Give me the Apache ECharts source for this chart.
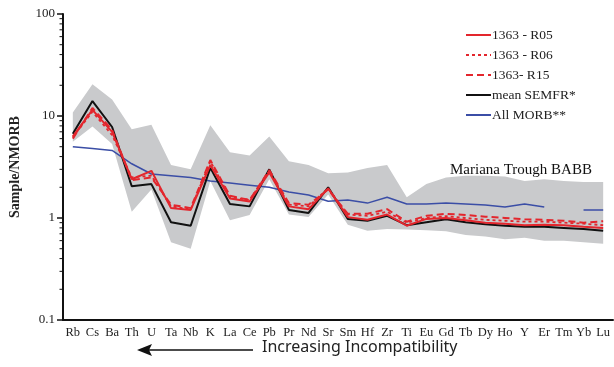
<!DOCTYPE html>
<html><head><meta charset="utf-8">
<script src="https://cdn.jsdelivr.net/npm/echarts@6/dist/echarts.min.js"></script>
<style>html,body{margin:0;padding:0;background:#fff}#c{width:614px;height:367px}</style>
</head><body><div id="c"></div>
<script>
var categories = ['Rb','Cs','Ba','Th','U','Ta','Nb','K','La','Ce','Pb','Pr','Nd','Sr','Sm','Hf','Zr','Ti','Eu','Gd','Tb','Dy','Ho','Y','Er','Tm','Yb','Lu'];
var r05   = [6.3, 11.5, 7.0, 2.4, 2.9, 1.25, 1.2, 3.3, 1.55, 1.45, 2.8, 1.3, 1.22, 1.95, 1.02, 0.96, 1.08, 0.84, 0.98, 1.0, 0.95, 0.9, 0.88, 0.85, 0.86, 0.85, 0.82, 0.8];
var r06   = [6.2, 11.0, 6.5, 2.5, 2.6, 1.3, 1.22, 3.6, 1.6, 1.5, 2.9, 1.35, 1.3, 1.95, 1.08, 1.05, 1.15, 0.9, 1.0, 1.04, 1.0, 0.96, 0.94, 0.92, 0.92, 0.9, 0.88, 0.85];
var r15   = [6.0, 12.0, 7.3, 2.35, 2.5, 1.35, 1.25, 3.7, 1.65, 1.5, 2.95, 1.4, 1.35, 1.9, 1.1, 1.1, 1.22, 0.92, 1.05, 1.1, 1.07, 1.03, 1.0, 0.97, 0.96, 0.94, 0.9, 0.93];
var semfr = [6.7, 14.0, 7.8, 2.05, 2.15, 0.91, 0.84, 3.1, 1.37, 1.3, 3.0, 1.2, 1.12, 2.0, 0.98, 0.94, 1.05, 0.85, 0.91, 0.97, 0.91, 0.87, 0.84, 0.82, 0.82, 0.8, 0.78, 0.75];
var morb  = [5.0, 4.8, 4.6, 3.4, 2.7, 2.6, 2.5, 2.3, 2.2, 2.1, 2.0, 1.8, 1.68, 1.46, 1.5, 1.4, 1.6, 1.37, 1.37, 1.4, 1.37, 1.34, 1.28, 1.37, 1.28, null, 1.2, 1.2];
var babbUpper = [10.8, 20.5, 14.5, 7.4, 8.2, 3.3, 3.0, 8.1, 4.4, 4.1, 6.3, 3.6, 3.3, 2.75, 2.8, 3.1, 3.3, 1.6, 2.15, 2.5, 2.6, 2.6, 2.55, 2.3, 2.4, 2.3, 2.25, 2.25];
var babbLower = [5.6, 7.9, 5.3, 1.15, 1.9, 0.58, 0.5, 2.3, 0.95, 1.07, 2.4, 1.08, 1.02, 1.7, 0.86, 0.75, 0.78, 0.77, 0.76, 0.74, 0.68, 0.66, 0.62, 0.64, 0.6, 0.6, 0.58, 0.56];
var majorTicks = [0.1, 1, 10, 100];
var minorTicks = [0.2,0.3,0.4,0.5,0.6,0.7,0.8,0.9, 2,3,4,5,6,7,8,9, 20,30,40,50,60,70,80,90];

var SERIF = '"Liberation Serif","DejaVu Serif",serif';
var RED = '#e3262d';
var chart = echarts.init(document.getElementById('c'));

function bandRender(params, api) {
  var pts = [];
  for (var i = 0; i < categories.length; i++) pts.push(api.coord([i, babbUpper[i]]));
  for (var j = categories.length - 1; j >= 0; j--) pts.push(api.coord([j, babbLower[j]]));
  return { type: 'polygon', shape: { points: pts }, style: { fill: '#c9cacc' } };
}
function tickRender(params, api) {
  var bw = api.size([1, 0])[0];
  var x0 = api.coord([0, 1])[0] - bw / 2;
  var kids = [];
  minorTicks.forEach(function (v) {
    var y = api.coord([0, v])[1];
    kids.push({ type: 'line', shape: { x1: x0 - 3.5, y1: y, x2: x0, y2: y }, style: { stroke: '#111', lineWidth: 1 } });
  });
  majorTicks.forEach(function (v) {
    var y = api.coord([0, v])[1];
    kids.push({ type: 'line', shape: { x1: x0 - 6, y1: y, x2: x0, y2: y }, style: { stroke: '#111', lineWidth: 1.5 } });
  });
  return { type: 'group', children: kids };
}

chart.setOption({
  animation: false,
  grid: { left: 59, right: 1, top: 14, bottom: 47 },
  legend: {
    orient: 'vertical', left: 460, top: 23, itemWidth: 25, itemHeight: 14, itemGap: 6,
    itemStyle: { opacity: 0 },
    data: ['1363 - R05', '1363 - R06', '1363- R15', 'mean SEMFR*', 'All MORB**'],
    textStyle: { fontFamily: SERIF, fontSize: 13.5, color: '#222', padding: [0, 0, 0, -4] }
  },
  xAxis: {
    type: 'category', data: categories, boundaryGap: true,
    axisLine: { lineStyle: { color: '#111', width: 2 } },
    axisTick: { inside: true, length: 3, lineStyle: { color: '#333' } },
    axisLabel: { fontFamily: SERIF, fontSize: 12.5, color: '#222', margin: 6, interval: 0 }
  },
  yAxis: {
    type: 'log', logBase: 10, min: 0.1, max: 100,
    name: 'Sample/NMORB', nameLocation: 'middle', nameGap: 41,
    nameTextStyle: { fontFamily: SERIF, fontSize: 14, fontWeight: 'bold', color: '#222' },
    axisLine: { show: true, lineStyle: { color: '#111', width: 2 } },
    axisTick: { show: false },
    splitLine: { show: false },
    axisLabel: { fontFamily: SERIF, fontSize: 13, color: '#222', margin: 8,
      formatter: function (v) { return String(+v.toPrecision(3)); } }
  },
  series: [
    { type: 'custom', name: 'band', renderItem: bandRender, data: [0], z: 1, silent: true, clip: false },
    { type: 'custom', name: 'ticks', renderItem: tickRender, data: [0], z: 5, silent: true, clip: false },
    { type: 'line', name: 'All MORB**', data: morb, symbol: 'none', connectNulls: false, z: 3,
      lineStyle: { color: '#3b4ea6', width: 1.5 }, itemStyle: { color: '#3b4ea6' } },
    { type: 'line', name: 'mean SEMFR*', data: semfr, symbol: 'none', z: 4,
      lineStyle: { color: '#111', width: 2 }, itemStyle: { color: '#111' } },
    { type: 'line', name: '1363- R15', data: r15, symbol: 'none', z: 4,
      lineStyle: { color: RED, width: 2, type: [7, 4] }, itemStyle: { color: RED } },
    { type: 'line', name: '1363 - R06', data: r06, symbol: 'none', z: 4,
      lineStyle: { color: RED, width: 1.8, type: [3, 3] }, itemStyle: { color: RED } },
    { type: 'line', name: '1363 - R05', data: r05, symbol: 'none', z: 4,
      lineStyle: { color: RED, width: 2 }, itemStyle: { color: RED } }
  ],
  graphic: [
    { type: 'text', left: 450, top: 163, z: 10,
      style: { text: 'Mariana Trough BABB', fontFamily: SERIF, fontSize: 15, fill: '#111' } },
    { type: 'line', shape: { x1: 148, y1: 350, x2: 253, y2: 350 }, style: { stroke: '#111', lineWidth: 1.6 } },
    { type: 'polygon', shape: { points: [[137, 350], [152, 344], [149, 350], [152, 356]] }, style: { fill: '#111' } },
    { type: 'text', left: 262, top: 339,
      style: { text: 'Increasing Incompatibility', fontFamily: '"Noto Sans","Open Sans",sans-serif', fontSize: 16, fill: '#222' } }
  ]
});
</script></body></html>
